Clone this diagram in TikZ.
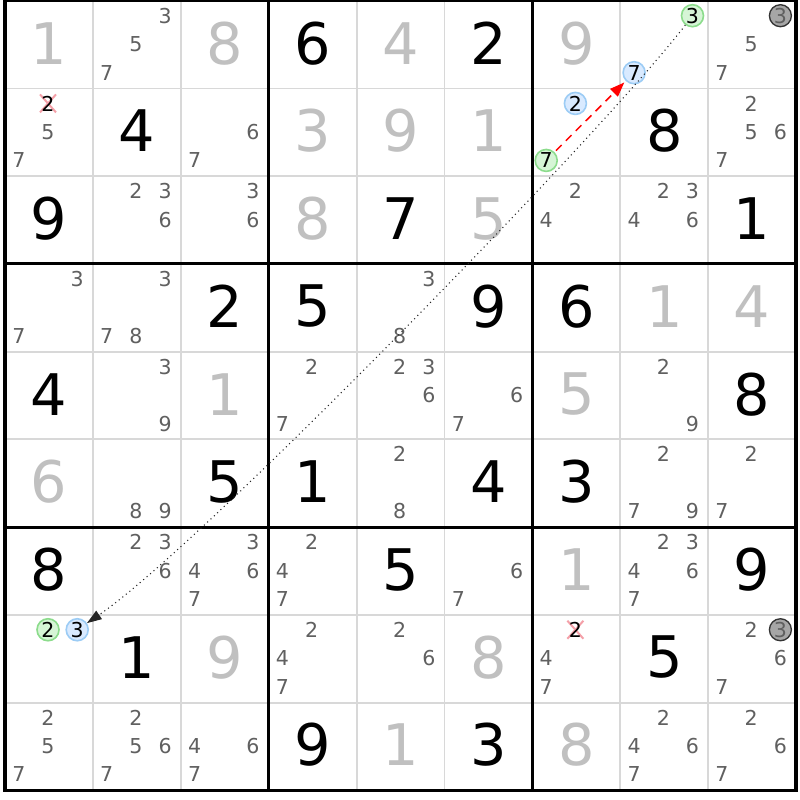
\documentclass[tikz,border=0pt]{standalone}
\usepackage{fontspec}
\newfontfamily\djv{DejaVu Sans}
\usetikzlibrary{arrows.meta}
\definecolor{solvedgrey}{HTML}{C0C0C0}
\definecolor{candgrey}{HTML}{606060}
\definecolor{thinline}{HTML}{D8D8D8}
\definecolor{greenfill}{HTML}{D6F5D6}
\definecolor{greenline}{HTML}{8CDC8C}
\definecolor{bluefill}{HTML}{D9EAFF}
\definecolor{blueline}{HTML}{9CCCF5}
\definecolor{greyfill}{HTML}{A6A6A6}
\definecolor{xred}{HTML}{F4A0A8}
\newcommand\sdkpos[3]{%
  \pgfmathsetmacro\px{5+87.9*(#2-1)+13.8+29.2*mod(#3-1,3)}%
  \pgfmathsetmacro\py{0.8+87.72*(#1-1)+14.9+28.5*int((#3-1)/3)}}
\newcommand\sdkcell[2]{%
  \pgfmathsetmacro\px{5+87.9*(#2-1)+44}%
  \pgfmathsetmacro\py{0.8+87.72*(#1-1)+42.5}}
\begin{document}
\begin{tikzpicture}[x=0.75pt,y=-0.75pt,
  given/.style={font={\djv\fontsize{43}{43}\selectfont},inner sep=0pt,text=black},
  solved/.style={given,text=solvedgrey},
  cand/.style={font={\djv\fontsize{15.4}{15.4}\selectfont},inner sep=0pt,text=candgrey},
  ring/.style={cand,circle,minimum size=16.5pt,line width=1.2pt,text=black},
  greenring/.style={ring,draw=greenline,fill=greenfill},
  bluering/.style={ring,draw=blueline,fill=bluefill},
  greyring/.style={ring,draw=black!80,fill=greyfill,line width=1pt,text=candgrey},
  xmark/.style={draw=xred,line width=1.5pt},
  thingrid/.style={draw=thinline,line width=1.4pt},
  thickgrid/.style={draw=black,line width=2.3pt},
  redlink/.style={draw=red,line width=1.1pt,dash pattern=on 6pt off 4.5pt,-{Triangle[length=11pt,width=8pt]}},
  dotlink/.style={draw=black!85,line width=0.8pt,dash pattern=on 0.8pt off 2.6pt,-{Triangle[length=11pt,width=7.5pt]}}
]
\useasboundingbox (0,0) rectangle (800,800);
\fill[white] (0,0) rectangle (800,800);
% thin grid
\foreach \i in {1,2,4,5,7,8}{
  \draw[thingrid] ({5+87.9*\i},0.8) -- ({5+87.9*\i},790.3);
  \draw[thingrid] (5,{0.8+87.72*\i}) -- (796,{0.8+87.72*\i});
}
% thick grid
\foreach \i in {3,6}{
  \draw[thickgrid] ({5+87.9*\i},0.8) -- ({5+87.9*\i},790.3);
  \draw[thickgrid] (5,{0.8+87.72*\i}) -- (796,{0.8+87.72*\i});
}
\draw[thickgrid] (5,0.8) rectangle (796,790.3);
% given digits
\foreach \r/\c/\d in {1/4/6,1/6/2,2/2/4,2/8/8,3/1/9,3/5/7,3/9/1,4/3/2,4/4/5,4/6/9,4/7/6,
  5/1/4,5/9/8,6/3/5,6/4/1,6/6/4,6/7/3,7/1/8,7/5/5,7/9/9,8/2/1,8/8/5,9/4/9,9/6/3}{
  \sdkcell{\r}{\c}
  \node[given] (g\r\c) at (\px,\py) {\d};
}
% solved digits
\foreach \r/\c/\d in {1/1/1,1/3/8,1/5/4,1/7/9,2/4/3,2/5/9,2/6/1,3/4/8,3/6/5,4/8/1,4/9/4,
  5/3/1,5/7/5,6/1/6,7/7/1,8/3/9,8/6/8,9/5/1,9/7/8}{
  \sdkcell{\r}{\c}
  \node[solved] (g\r\c) at (\px,\py) {\d};
}
% candidates
\foreach \r/\c/\ds in {1/2/{3,5,7},1/9/{5,7},2/1/{5,7},2/3/{6,7},2/9/{2,5,6,7},
  3/2/{2,3,6},3/3/{3,6},3/7/{2,4},3/8/{2,3,4,6},4/1/{3,7},4/2/{3,7,8},4/5/{3,8},
  5/2/{3,9},5/4/{2,7},5/5/{2,3,6},5/6/{6,7},5/8/{2,9},6/2/{8,9},6/5/{2,8},
  6/8/{2,7,9},6/9/{2,7},7/2/{2,3,6},7/3/{3,4,6,7},7/4/{2,4,7},7/6/{6,7},
  7/8/{2,3,4,6,7},8/4/{2,4,7},8/5/{2,6},8/7/{4,7},8/9/{2,6,7},9/1/{2,5,7},
  9/2/{2,5,6,7},9/3/{4,6,7},9/8/{2,4,6,7},9/9/{2,6,7}}{
  \foreach \d in \ds {
    \sdkpos{\r}{\c}{\d}
    \node[cand] (k\r\c\d) at (\px,\py) {\d};
  }
}
% eliminated candidates
\foreach \r/\c in {2/1,8/7}{
  \sdkpos{\r}{\c}{2}
  \coordinate (x\r\c) at (\px,\py);
  \draw[xmark] (x\r\c) ++(-8,-9) -- ++(16,18);
  \draw[xmark] (x\r\c) ++(-8,9) -- ++(16,-18);
  \node[cand,text=black] (k\r\c2) at (\px,\py) {2};
}
% highlighted candidates
\sdkpos{1}{8}{3}\node[greenring] (k183) at (\px,\py) {3};
\sdkpos{2}{7}{7}\node[greenring] (k277) at (\px,\py) {7};
\sdkpos{8}{1}{2}\node[greenring] (k812) at (\px,\py) {2};
\sdkpos{1}{8}{7}\node[bluering] (k187) at (\px,\py) {7};
\sdkpos{2}{7}{2}\node[bluering] (k272) at (\px,\py) {2};
\sdkpos{8}{1}{3}\node[bluering] (k813) at (\px,\py) {3};
\sdkpos{1}{9}{3}\node[greyring] (k193) at (\px,\py) {3};
\sdkpos{8}{9}{3}\node[greyring] (k893) at (\px,\py) {3};
% links
\coordinate (dc1) at (604.6,130.4);
\coordinate (dc2) at (200.4,546);
\draw[dotlink] (k183) .. controls (dc1) and (dc2) .. (k813);
\draw[redlink,shorten <=1.5pt,shorten >=1.5pt] (k277) -- (k187);
\end{tikzpicture}
\end{document}
